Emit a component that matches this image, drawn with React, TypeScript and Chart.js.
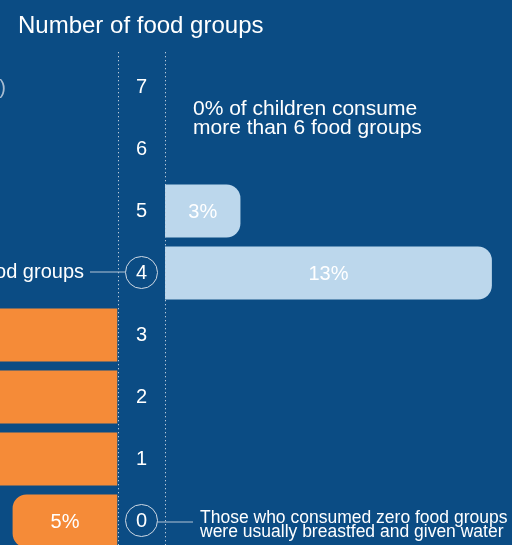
import { useEffect, useRef } from "react";
import { Chart, registerables } from "chart.js";

Chart.register(...registerables);

// ---- data ----
const categories = ["0", "1", "2", "3", "4", "5", "6", "7"];
// share of children (%) by number of food groups consumed
const belowMinimum = [5, 23, 31, 25, null, null, null, null];
const atOrAboveMinimum = [null, null, null, null, 13, 3, 0, 0];
const highlighted = ["4", "0"];
const titleText = "Number of food groups";
const topNote = ["0% of children consume", "more than 6 food groups"];
const zeroNote = ["Those who consumed zero food groups", "were usually breastfed and given water"];
const minimumNote = "food groups";
const leftHeaderTail = "(%)";

// ---- style ----
const W = 512;
const H = 560;
const BG = "#0b4c84";
const ORANGE = "#f58b38";
const LIGHT = "#bcd7ec";
const FONT = "'Liberation Sans', Arial, sans-serif";
const LEFT_END = 117.5;
const RIGHT_START = 165;
const CENTER_X = 141.5;

const valueLabels = {
  id: "valueLabels",
  afterDatasetsDraw(chart: any) {
    const ctx = chart.ctx;
    chart.data.datasets.forEach((ds: any, di: number) => {
      const meta = chart.getDatasetMeta(di);
      meta.data.forEach((bar: any, i: number) => {
        const v = ds.data[i];
        if (v == null || v <= 0) return;
        const { x, y, base } = bar.getProps(["x", "y", "base"], true);
        ctx.save();
        ctx.fillStyle = "#ffffff";
        ctx.font = `20px ${FONT}`;
        ctx.textAlign = "center";
        ctx.textBaseline = "middle";
        ctx.fillText(`${v}%`, (x + base) / 2, y + 1);
        ctx.restore();
      });
    });
  },
};

const decorations = {
  id: "decorations",
  afterDraw(chart: any) {
    const ctx = chart.ctx;
    const yScale = chart.scales.y;
    ctx.save();

    // title
    ctx.fillStyle = "#ffffff";
    ctx.font = `24px ${FONT}`;
    ctx.textAlign = "left";
    ctx.textBaseline = "alphabetic";
    ctx.fillText(titleText, 18, 33);

    // dotted column lines
    ctx.strokeStyle = "#b9c9da";
    ctx.lineWidth = 1;
    ctx.setLineDash([1.3, 2.7]);
    [118.5, 165.5].forEach((x) => {
      ctx.beginPath();
      ctx.moveTo(x, 52);
      ctx.lineTo(x, H);
      ctx.stroke();
    });
    ctx.setLineDash([]);

    // category labels in the centre column
    categories.forEach((c, i) => {
      const y = yScale.getPixelForValue(i);
      if (highlighted.includes(c)) {
        ctx.beginPath();
        ctx.strokeStyle = "#cfd9e4";
        ctx.lineWidth = 1;
        ctx.arc(CENTER_X, y - 0.5, 16, 0, Math.PI * 2);
        ctx.stroke();
      }
      ctx.fillStyle = "#ffffff";
      ctx.font = `20px ${FONT}`;
      ctx.textAlign = "center";
      ctx.textBaseline = "middle";
      ctx.fillText(c, CENTER_X, y + 0.5);
    });

    // connector for minimum (4)
    const y4 = yScale.getPixelForValue(categories.indexOf("4"));
    ctx.strokeStyle = "#b4c4d5";
    ctx.lineWidth = 1;
    ctx.beginPath();
    ctx.moveTo(90, y4 - 1);
    ctx.lineTo(CENTER_X - 16, y4 - 1);
    ctx.stroke();
    ctx.fillStyle = "#ffffff";
    ctx.font = `20px ${FONT}`;
    ctx.textAlign = "right";
    ctx.textBaseline = "middle";
    ctx.fillText(minimumNote, 84, y4 - 0.5);

    // connector for zero
    const y0 = yScale.getPixelForValue(categories.indexOf("0"));
    ctx.beginPath();
    ctx.moveTo(CENTER_X + 16, y0 + 1);
    ctx.lineTo(193, y0 + 1);
    ctx.stroke();
    ctx.fillStyle = "#ffffff";
    ctx.font = `17.5px ${FONT}`;
    ctx.textAlign = "left";
    ctx.textBaseline = "alphabetic";
    ctx.fillText(zeroNote[0], 200, 522.5);
    ctx.fillText(zeroNote[1], 200, 537);

    // top note
    ctx.font = `21px ${FONT}`;
    ctx.fillText(topNote[0], 193, 115);
    ctx.fillText(topNote[1], 193, 134);

    // clipped header on the left
    const y7 = yScale.getPixelForValue(categories.indexOf("7"));
    ctx.fillStyle = "#a9bdd2";
    ctx.font = `20px ${FONT}`;
    ctx.textAlign = "right";
    ctx.textBaseline = "middle";
    ctx.fillText(leftHeaderTail, 6, y7 + 1);

    ctx.restore();
  },
};

export default function App() {
  const leftRef = useRef<HTMLCanvasElement>(null);
  const rightRef = useRef<HTMLCanvasElement>(null);

  useEffect(() => {
    const baseOptions = (padLeft: number, padRight: number, xOpts: any) => ({
      indexAxis: "y" as const,
      responsive: false,
      animation: false as const,
      events: [] as any[],
      layout: { padding: { left: padLeft, right: padRight, top: 56, bottom: 8 } },
      plugins: { legend: { display: false }, tooltip: { enabled: false } },
      scales: {
        x: { display: false, ...xOpts },
        y: { display: false, reverse: true, grid: { display: false } },
      },
    });

    const left = new Chart(leftRef.current!, {
      type: "bar",
      data: {
        labels: categories,
        datasets: [
          {
            data: belowMinimum as any,
            backgroundColor: ORANGE,
            borderRadius: 14,
            borderSkipped: "start",
            barPercentage: 0.855,
            categoryPercentage: 1,
          },
        ],
      },
      options: baseOptions(0, W - LEFT_END, { min: 0, max: 5.6, reverse: true }) as any,
      plugins: [valueLabels],
    });

    const right = new Chart(rightRef.current!, {
      type: "bar",
      data: {
        labels: categories,
        datasets: [
          {
            data: atOrAboveMinimum as any,
            backgroundColor: LIGHT,
            borderRadius: 14,
            borderSkipped: "start",
            barPercentage: 0.855,
            categoryPercentage: 1,
          },
        ],
      },
      options: baseOptions(RIGHT_START, 0, { min: 0, max: 13.8 }) as any,
      plugins: [valueLabels, decorations],
    });

    return () => {
      left.destroy();
      right.destroy();
    };
  }, []);

  return (
    <div
      style={{
        position: "fixed",
        left: 0,
        top: 0,
        width: 512,
        height: 545,
        overflow: "hidden",
        background: BG,
      }}
    >
      <canvas ref={leftRef} width={W} height={H} style={{ position: "absolute", left: 0, top: 0 }} />
      <canvas ref={rightRef} width={W} height={H} style={{ position: "absolute", left: 0, top: 0 }} />
    </div>
  );
}
